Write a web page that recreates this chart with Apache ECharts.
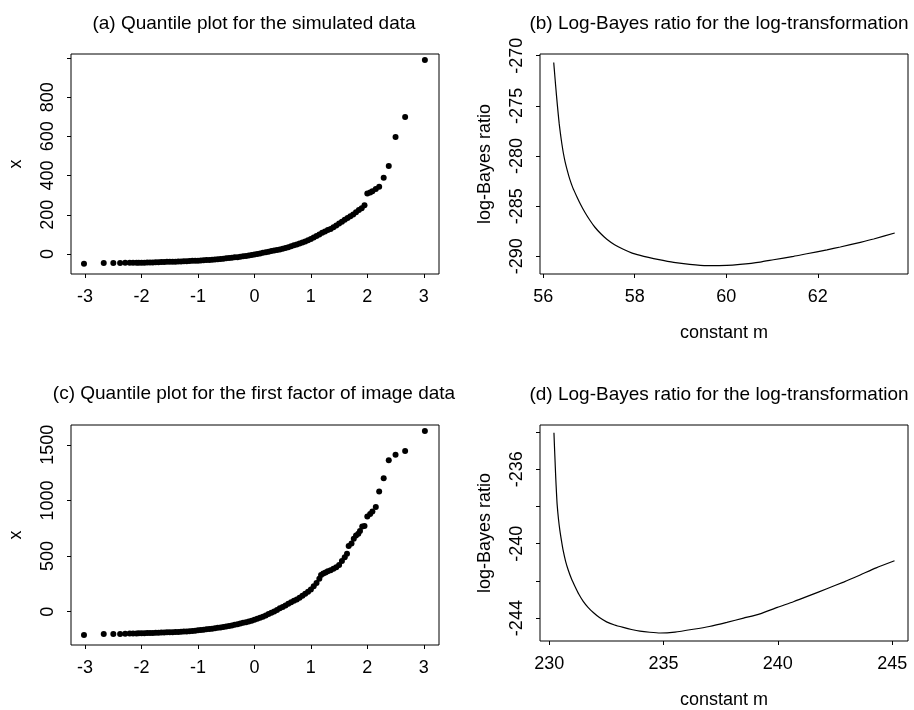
<!DOCTYPE html>
<html lang="en">
<head>
    <meta charset="UTF-8">
    <title>Quantile plots and log-Bayes ratio</title>
    <script src="https://cdn.jsdelivr.net/npm/echarts@6/dist/echarts.min.js"></script>
    <style>
        html, body { margin: 0; padding: 0; background: #fff; }
        #main { width: 914px; height: 710px; }
    </style>
</head>
<body>
<div id="main"></div>
<script type="text/javascript">
    // (a) normal quantiles vs simulated data
    var qA = [-3.02,-2.67,-2.50,-2.38,-2.29,-2.21,-2.15,-2.09,-2.05,
        -2.00,-1.95,-1.90,-1.85,-1.80,-1.75,-1.70,-1.65,-1.60,-1.55,-1.50,
        -1.45,-1.40,-1.35,-1.30,-1.25,-1.20,-1.15,-1.10,-1.05,-1.00,
        -0.95,-0.90,-0.85,-0.80,-0.75,-0.70,-0.65,-0.60,-0.55,-0.50,
        -0.45,-0.40,-0.35,-0.30,-0.25,-0.20,-0.15,-0.10,-0.05,0.00,
        0.05,0.10,0.15,0.20,0.25,0.30,0.35,0.40,0.45,0.50,
        0.55,0.60,0.65,0.70,0.75,0.80,0.85,0.90,0.95,1.00,
        1.05,1.10,1.15,1.20,1.25,1.30,1.35,1.40,1.45,1.50,
        1.55,1.60,1.65,1.70,1.75,1.80,1.85,1.90,1.95,
        2.00,2.05,2.09,2.15,2.21,2.29,2.38,2.50,2.67,3.02];
    var xA = [-50,-46,-46,-46,-45,-45,-45,-44,-44,
        -44,-44,-43,-43,-43,-42,-42,-41,-41,-40,-40,
        -39,-39,-38,-38,-37,-37,-36,-35,-35,-34,
        -33,-32,-31,-30,-29,-28,-27,-25,-24,-22,
        -21,-19,-17,-16,-14,-12,-10,-8,-5,-3,
        0,3,6,9,12,15,18,20,23,27,
        31,35,40,44,49,54,59,64,70,76,
        84,92,100,108,115,122,128,136,145,155,
        165,175,183,192,202,213,224,233,248,
        308,314,320,332,343,389,449,597,699,990];

    // (c) normal quantiles vs first factor of image data
    var qC = [-3.02,-2.67,-2.50,-2.38,-2.29,-2.21,-2.15,-2.09,-2.05,
        -2.00,-1.95,-1.90,-1.85,-1.80,-1.75,-1.70,-1.65,-1.60,-1.55,-1.50,
        -1.45,-1.40,-1.35,-1.30,-1.25,-1.20,-1.15,-1.10,-1.05,-1.00,
        -0.95,-0.90,-0.85,-0.80,-0.75,-0.70,-0.65,-0.60,-0.55,-0.50,
        -0.45,-0.40,-0.35,-0.30,-0.25,-0.20,-0.15,-0.10,-0.05,0.00,
        0.05,0.10,0.15,0.20,0.25,0.30,0.35,0.40,0.45,0.50,
        0.55,0.60,0.65,0.70,0.75,0.80,0.85,0.90,0.95,1.00,
        1.05,1.10,1.15,1.18,1.22,1.26,1.30,1.35,1.40,1.45,
        1.50,1.55,1.60,1.64,1.67,1.72,1.76,1.80,1.84,1.87,
        1.91,1.95,2.00,2.05,2.09,2.15,2.21,2.29,2.38,2.50,2.67,3.02];
    var xC = [-210,-201,-201,-200,-198,-197,-196,-196,-195,
        -195,-194,-193,-192,-191,-190,-189,-188,-187,-186,-186,
        -185,-184,-182,-181,-179,-178,-176,-174,-171,-168,
        -165,-162,-159,-156,-153,-149,-146,-142,-138,-134,
        -129,-124,-119,-113,-107,-101,-95,-88,-81,-74,
        -65,-55,-45,-34,-22,-10,2,15,30,42,
        55,70,84,98,110,125,142,160,178,200,
        228,258,295,330,342,352,362,372,385,398,
        420,455,490,520,590,612,655,684,700,726,
        765,770,855,877,900,940,1080,1200,1362,1410,1444,1624];

    // (b) log-Bayes ratio against constant m
    var mB = [56.23,56.25,56.27,56.29,56.31,56.33,56.35,56.38,56.41,56.44,56.48,56.53,56.58,56.65,56.73,56.82,56.91,57.02,57.13,57.26,
        57.39,57.56,57.75,57.93,58.12,58.30,58.50,58.85,59.20,59.58,60.01,60.30,60.74,
        61.03,61.47,61.76,62.20,62.49,62.93,63.22,63.68];
    var lbB = [-270.67,-271.8,-272.9,-273.95,-274.95,-275.9,-276.8,-277.9,-278.85,-279.7,-280.6,-281.5,-282.3,-283.2,-284.0,-284.85,-285.6,-286.4,-287.1,-287.75,
        -288.3,-288.85,-289.3,-289.65,-289.9,-290.1,-290.3,-290.6,-290.8,-290.92,-290.9,-290.8,-290.57,
        -290.34,-290.0,-289.74,-289.35,-289.07,-288.6,-288.27,-287.67];

    // (d) log-Bayes ratio against constant m
    var mD = [230.21,230.23,230.25,230.27,230.29,230.32,230.35,230.41,230.47,230.54,230.61,230.72,230.83,230.98,231.13,231.30,231.49,231.70,231.93,232.20,
        232.51,232.86,233.24,233.60,233.97,234.40,234.85,235.5,236.3,237.0,237.77,238.5,239.22,
        239.98,240.68,241.4,242.14,242.9,243.6,244.3,245.1];
    var lbD = [-234.04,-234.7,-235.3,-235.9,-236.5,-237.25,-237.9,-238.7,-239.3,-239.85,-240.35,-240.95,-241.4,-241.9,-242.3,-242.72,-243.1,-243.42,-243.7,-243.97,
        -244.2,-244.37,-244.5,-244.61,-244.7,-244.76,-244.8,-244.75,-244.6,-244.45,-244.23,-244.0,-243.77,
        -243.42,-243.12,-242.78,-242.42,-242.05,-241.68,-241.3,-240.92];

    var titles = ['(a) Quantile plot for the simulated data',
        '(b) Log-Bayes ratio for the log-transformation',
        '(c) Quantile plot for the first factor of image data',
        '(d) Log-Bayes ratio for the log-transformation'];

    var quantTicks = [-3, -2, -1, 0, 1, 2, 3];
    var ticksA = [0, 200, 400, 600, 800, 1000];
    var labelsA = [0, 200, 400, 600, 800];
    var ticksB = [-290, -285, -280, -275, -270];
    var mTicksB = [56, 58, 60, 62];
    var ticksC = [0, 500, 1000, 1500];
    var ticksD = [-244, -242, -240, -238, -236, -234];
    var labelsD = [-244, -240, -236];
    var mTicksD = [230, 235, 240, 245];

    var FONT = "'Liberation Sans', Arial, sans-serif";

    function pairs(xs, ys) {
        var out = [];
        for (var i = 0; i < xs.length; i++) out.push([xs[i], ys[i]]);
        return out;
    }

    function plain(v) { return String(v); }

    function xAxisFor(idx, min, max, ticks, name) {
        return {
            type: 'value', gridIndex: idx, min: min, max: max,
            name: name || '', nameLocation: 'middle', nameGap: 50,
            nameTextStyle: {color: '#000', fontSize: 18, fontFamily: FONT},
            axisLine: {show: false, onZero: false},
            axisTick: {show: true, length: 4, customValues: ticks, lineStyle: {color: '#000'}},
            axisLabel: {customValues: ticks, formatter: plain, margin: 14, color: '#000', fontSize: 18, fontFamily: FONT},
            splitLine: {show: false}
        };
    }

    function yAxisFor(idx, min, max, ticks, labels, name) {
        return {
            type: 'value', gridIndex: idx, min: min, max: max,
            name: name, nameLocation: 'middle', nameGap: 46, nameRotate: 90,
            nameTextStyle: {color: '#000', fontSize: 18, fontFamily: FONT},
            axisLine: {show: false, onZero: false},
            axisTick: {show: true, length: 4, customValues: ticks, lineStyle: {color: '#000'}},
            axisLabel: {customValues: labels, formatter: plain, rotate: 90, margin: 14, color: '#000', fontSize: 18, fontFamily: FONT},
            splitLine: {show: false}
        };
    }

    var gridPos = [[71, 54], [540, 54], [71, 425], [540, 425]];
    var titlePos = [[254, 14], [719, 14], [254, 384], [719, 385]];

    var myChart = echarts.init(document.getElementById('main'));
    var option = {
        backgroundColor: '#fff',
        animation: false,
        title: titles.map(function (t, i) {
            return {
                text: t, left: titlePos[i][0], top: titlePos[i][1], textAlign: 'center', padding: 0,
                textStyle: {color: '#000', fontSize: 19, fontWeight: 'normal', fontFamily: FONT}
            };
        }),
        grid: gridPos.map(function (p) {
            return {left: p[0], top: p[1], width: 368, height: 220, show: true,
                borderColor: '#000', borderWidth: 1, backgroundColor: 'transparent'};
        }),
        xAxis: [
            xAxisFor(0, -3.25, 3.27, quantTicks),
            xAxisFor(1, 55.93, 63.97, mTicksB, 'constant m'),
            xAxisFor(2, -3.25, 3.27, quantTicks),
            xAxisFor(3, 229.6, 245.69, mTicksD, 'constant m')
        ],
        yAxis: [
            yAxisFor(0, -102, 1020, ticksA, labelsA, 'x'),
            yAxisFor(1, -291.76, -269.83, ticksB, ticksB, 'log-Bayes ratio'),
            yAxisFor(2, -300, 1678, ticksC, ticksC, 'x'),
            yAxisFor(3, -245.23, -233.62, ticksD, labelsD, 'log-Bayes ratio')
        ],
        series: [
            {type: 'scatter', xAxisIndex: 0, yAxisIndex: 0, data: pairs(qA, xA),
                symbolSize: 6, itemStyle: {color: '#000', opacity: 1}},
            {type: 'line', xAxisIndex: 1, yAxisIndex: 1, data: pairs(mB, lbB),
                showSymbol: false, smooth: 0.2, lineStyle: {color: '#000', width: 1.2}},
            {type: 'scatter', xAxisIndex: 2, yAxisIndex: 2, data: pairs(qC, xC),
                symbolSize: 6, itemStyle: {color: '#000', opacity: 1}},
            {type: 'line', xAxisIndex: 3, yAxisIndex: 3, data: pairs(mD, lbD),
                showSymbol: false, smooth: 0.2, lineStyle: {color: '#000', width: 1.2}}
        ]
    };
    myChart.setOption(option);
</script>
</body>
</html>
